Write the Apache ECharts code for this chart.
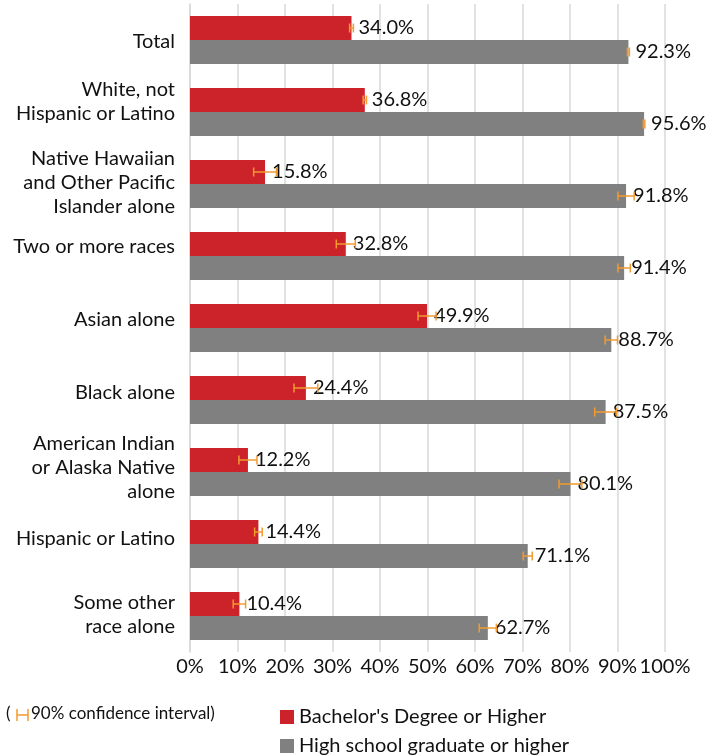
<!DOCTYPE html>
<html>
<head>
<meta charset="utf-8">
<script src="https://cdn.jsdelivr.net/npm/echarts@6/dist/echarts.min.js"></script>
<style>
html,body{margin:0;padding:0;background:#fff;}
#chart{width:706px;height:755px;}
</style>
</head>
<body>
<div id="chart"></div>
<script>
const categories = [
  "Total",
  "White, not\nHispanic or Latino",
  "Native Hawaiian\nand Other Pacific\nIslander alone",
  "Two or more races",
  "Asian alone",
  "Black alone",
  "American Indian\nor Alaska Native\nalone",
  "Hispanic or Latino",
  "Some other\nrace alone"
];
const bachelors = [34.0, 36.8, 15.8, 32.8, 49.9, 24.4, 12.2, 14.4, 10.4];
const bachelorsMoe = [0.4, 0.35, 2.4, 2.0, 1.9, 2.5, 1.9, 0.8, 1.3];
const highSchool = [92.3, 95.6, 91.8, 91.4, 88.7, 87.5, 80.1, 71.1, 62.7];
const highSchoolMoe = [0.2, 0.15, 1.7, 1.3, 1.3, 2.3, 2.4, 0.95, 1.8];
const xTicks = [0, 10, 20, 30, 40, 50, 60, 70, 80, 90, 100];

// style: vertical nudge of each category label (px, positive = up)
const labelNudge = [-2, 10, 1, 9, 8, 7, 4, 5, 1];

const RED = '#cc2229';
const GRAY = '#808080';
const ORANGE = '#f39a2e';
const TXT = '#111111';
const FONT = 'Lato';
const FS = 20;
const BAR_W = 24;

function errData(vals, moe) {
  return vals.map((v, i) => [i, +(v - moe[i]).toFixed(2), +(v + moe[i]).toFixed(2)]);
}
function makeErr(offset) {
  return function (params, api) {
    const c = api.value(0);
    const lo = api.coord([api.value(1), c]);
    const hi = api.coord([api.value(2), c]);
    const y = lo[1] + offset;
    const h = 4.5;
    const st = { stroke: ORANGE, lineWidth: 1.5 };
    return {
      type: 'group',
      children: [
        { type: 'line', shape: { x1: lo[0], y1: y, x2: hi[0], y2: y }, style: st },
        { type: 'line', shape: { x1: lo[0], y1: y - h, x2: lo[0], y2: y + h }, style: st },
        { type: 'line', shape: { x1: hi[0], y1: y - h, x2: hi[0], y2: y + h }, style: st }
      ]
    };
  };
}
const labelCfg = {
  show: true,
  position: 'right',
  distance: 7,
  color: TXT,
  fontFamily: FONT,
  fontSize: FS,
  formatter: p => p.value.toFixed(1) + '%'
};

// rich styles for category labels, with spacer lines to nudge vertically
const rich = { t: { color: TXT, fontSize: FS, fontFamily: FONT, lineHeight: 24, align: 'right' } };
labelNudge.forEach(n => {
  const h = Math.abs(2 * n);
  if (h > 0) rich['p' + h] = { fontSize: 1, lineHeight: h, align: 'right' };
});
function catFormatter(value, idx) {
  const n = labelNudge[idx] || 0;
  const body = value.split('\n').map(l => '{t|' + l + '}').join('\n');
  if (n > 0) return body + '\n{p' + (2 * n) + '| }';
  if (n < 0) return '{p' + (-2 * n) + '| }\n' + body;
  return body;
}

const legendText = { color: TXT, fontSize: FS, fontFamily: FONT, lineHeight: 16 };

const chart = echarts.init(document.getElementById('chart'), null, { renderer: 'canvas' });
chart.setOption({
  animation: false,
  backgroundColor: '#fff',
  textStyle: { fontFamily: FONT },
  grid: { left: 190, right: 41, top: 4, bottom: 103, containLabel: false },
  xAxis: {
    type: 'value',
    min: xTicks[0],
    max: xTicks[xTicks.length - 1],
    interval: 10,
    axisLine: { show: false },
    axisTick: { show: false },
    splitLine: { show: true, lineStyle: { color: '#d9d9d9', width: 1.5 } },
    axisLabel: { formatter: '{value}%', color: TXT, fontSize: FS, fontFamily: FONT, margin: 5 }
  },
  yAxis: {
    type: 'category',
    inverse: true,
    data: categories,
    axisLine: { show: true, lineStyle: { color: '#d9d9d9', width: 1.5 } },
    axisTick: { show: false },
    axisLabel: {
      color: TXT, fontSize: FS, fontFamily: FONT, margin: 15, align: 'right',
      formatter: catFormatter, rich: rich
    }
  },
  legend: [
    {
      left: 280, top: 707, padding: 0,
      itemWidth: 14, itemHeight: 14, icon: 'rect',
      textStyle: legendText,
      data: ["Bachelor's Degree or Higher"]
    },
    {
      left: 280, top: 736, padding: 0,
      itemWidth: 14, itemHeight: 14, icon: 'rect',
      textStyle: legendText,
      data: ['High school graduate or higher']
    }
  ],
  graphic: [
    { type: 'text', left: 6, top: 705, style: { text: '(', fill: TXT, font: '17px Lato' } },
    { type: 'line', shape: { x1: 17, y1: 709, x2: 17, y2: 721 }, style: { stroke: ORANGE, lineWidth: 1.5 } },
    { type: 'line', shape: { x1: 17, y1: 715, x2: 28, y2: 715 }, style: { stroke: ORANGE, lineWidth: 1.5 } },
    { type: 'line', shape: { x1: 28, y1: 709, x2: 28, y2: 721 }, style: { stroke: ORANGE, lineWidth: 1.5 } },
    { type: 'text', left: 31, top: 705, style: { text: '90% confidence interval)', fill: TXT, font: '17px Lato' } }
  ],
  series: [
    {
      name: "Bachelor's Degree or Higher",
      type: 'bar',
      barWidth: BAR_W,
      barGap: '0%',
      itemStyle: { color: RED },
      label: labelCfg,
      data: bachelors,
      z: 2
    },
    {
      name: 'High school graduate or higher',
      type: 'bar',
      barWidth: BAR_W,
      barGap: '0%',
      itemStyle: { color: GRAY },
      label: labelCfg,
      data: highSchool,
      z: 2
    },
    {
      type: 'custom',
      renderItem: makeErr(-BAR_W / 2),
      encode: { y: 0, x: [1, 2] },
      data: errData(bachelors, bachelorsMoe),
      z: 5,
      silent: true
    },
    {
      type: 'custom',
      renderItem: makeErr(BAR_W / 2),
      encode: { y: 0, x: [1, 2] },
      data: errData(highSchool, highSchoolMoe),
      z: 5,
      silent: true
    }
  ]
});
</script>
</body>
</html>
